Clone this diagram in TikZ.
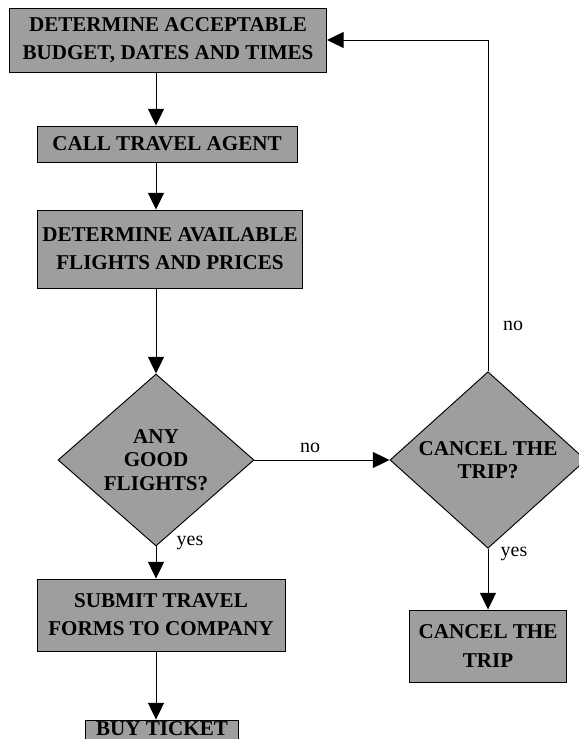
\documentclass[tikz,border=0pt]{standalone}
\usepackage{fontspec}
\setmainfont{Liberation Serif}
\usetikzlibrary{positioning, calc, shapes.geometric, arrows.meta}

\begin{document}
\begin{tikzpicture}[
    x=0.03cm, y=-0.03cm,
    stepbox/.style={draw, line width=0.8pt, fill=black!38, align=center, inner sep=0pt,
        font=\fontsize{18}{24}\selectfont\bfseries},
    decision/.style={diamond, draw, line width=0.8pt, fill=black!38, align=center, inner sep=0pt,
        minimum width=5.88cm, minimum height=5.16cm, font=\fontsize{18}{20}\selectfont\bfseries},
    arr/.style={line width=0.8pt, -{Triangle[width=0.48cm, length=0.5cm]}},
    lbl/.style={font=\fontsize{17}{19}\selectfont}
]
\useasboundingbox (0,0) rectangle (578,739);
% Left column
\node[stepbox, minimum width=9.51cm, minimum height=1.92cm] (budget) at (168,40) {DETERMINE ACCEPTABLE\\BUDGET, DATES AND TIMES};
\node[stepbox, minimum width=7.8cm, minimum height=1.08cm] (agent) at (167,144) {CALL TRAVEL AGENT};
\node[stepbox, minimum width=7.95cm, minimum height=2.34cm] (flights) at (170,249) {DETERMINE AVAILABLE\\FLIGHTS AND PRICES};
\node[decision] (good) at (156,460) {ANY\\GOOD\\FLIGHTS?};
\node[stepbox, minimum width=7.44cm, minimum height=2.16cm] (forms) at (161,615) {SUBMIT TRAVEL\\FORMS TO COMPANY};
\node[stepbox, minimum width=4.59cm, minimum height=0.66cm] (ticket) at (162,731) {\raisebox{0.12cm}{BUY TICKET}};
% Right column
\node[decision] (cancel) at (488,460) {CANCEL THE\\TRIP?};
\node[stepbox, minimum width=4.71cm, minimum height=2.16cm] (stop) at (488,646) {CANCEL THE\\TRIP};
% Arrows
\draw[arr] (budget.south -| good.north) -- (agent.north -| good.north);
\draw[arr] (agent.south -| good.north) -- (flights.north -| good.north);
\draw[arr] (flights.south -| good.north) -- (good.north);
\draw[arr] (good.south) -- (forms.north -| good.south);
\draw[arr] (forms.south -| good.south) -- (ticket.north -| good.south);
\draw[arr] (good.east) -- (cancel.west);
\draw[arr] (cancel.north) |- (budget.east);
\draw[arr] (cancel.south) -- (stop.north -| cancel.south);
% Labels
\node[lbl] (nogood) at (310,448) {no};
\node[lbl] (nocancel) at (513,326) {no};
\node[lbl] (yesgood) at (190,543) {yes};
\node[lbl] (yescancel) at (514,554) {yes};
\end{tikzpicture}
\end{document}
